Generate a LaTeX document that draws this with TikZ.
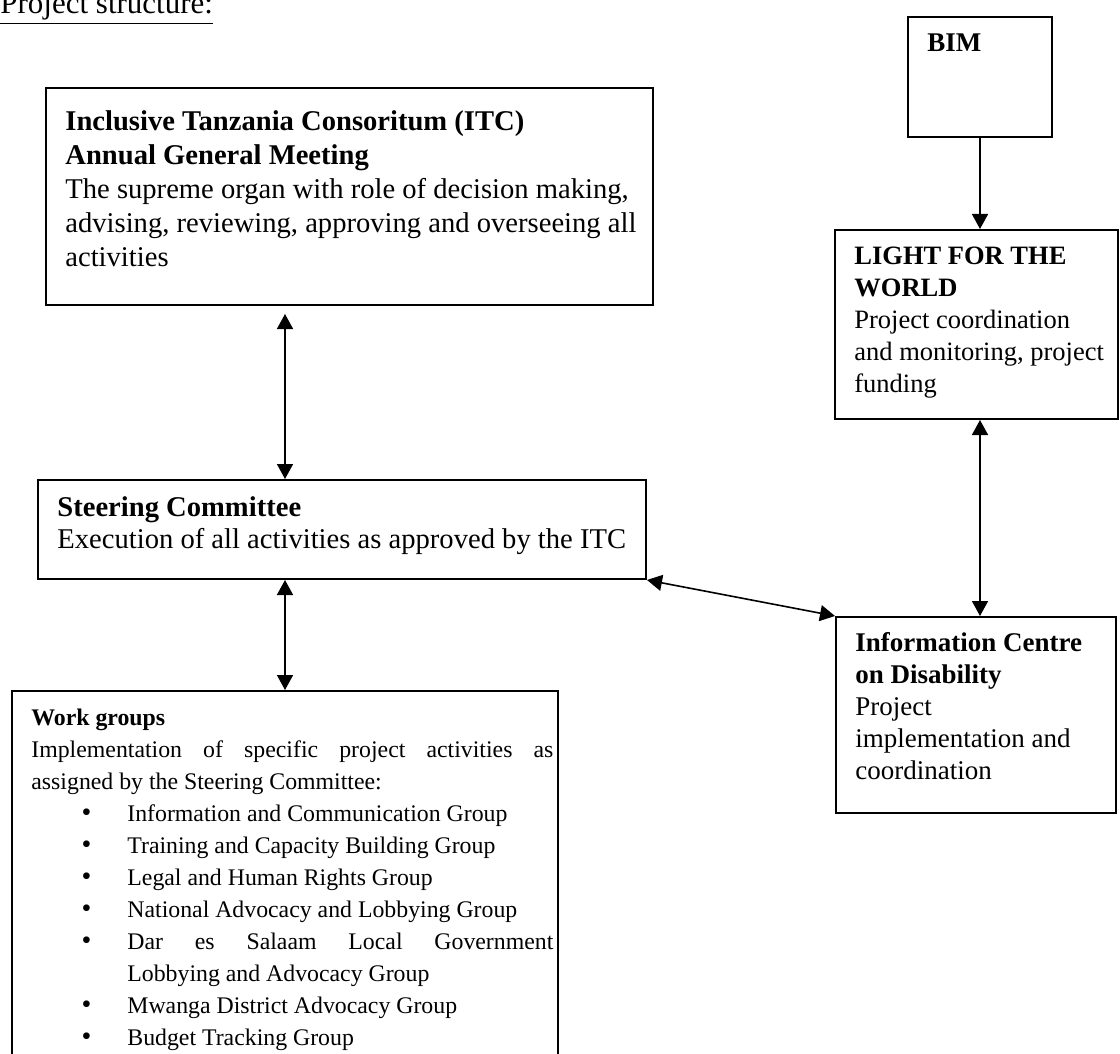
\documentclass[tikz,border=0pt]{standalone}
\usepackage{fontspec}
\setmainfont{Liberation Serif}
\usetikzlibrary{arrows.meta}

\newcommand{\bodyfont}{\fontsize{13.5}{16}\selectfont}
\newcommand{\bigbody}{\fontsize{14.3}{17}\selectfont}
\newcommand{\smallbody}{\fontsize{11.9}{16}\selectfont}
\tikzset{
  frame/.style={draw, line width=1pt, anchor=north west, inner sep=0pt},
  txt/.style={anchor=north west, inner xsep=10pt, inner ysep=6.3pt, align=left, font=\bodyfont},
  link/.style={line width=0.8pt, -{Triangle[length=7.5pt,width=8pt]}},
  twoway/.style={line width=0.8pt, {Triangle[length=7.5pt,width=8pt]}-{Triangle[length=7.5pt,width=8pt]}}
}

\begin{document}
\begin{tikzpicture}[x=0.5pt, y=-0.5pt]
  \path[use as bounding box, clip] (0,0) rectangle (1120,1054);

  % title
  \node[anchor=base west, inner sep=0pt, font=\fontsize{15.5}{18}\selectfont] (title) at (0,14) {\underline{Project structure:}};

  % boxes
  \node[frame, minimum width=303.5pt, minimum height=108.5pt] (itc) at (45,87) {};
  \node[frame, minimum width=72pt, minimum height=60pt] (bim) at (907,16) {};
  \node[frame, minimum width=141.5pt, minimum height=94.5pt] (light) at (834,229) {};
  \node[frame, minimum width=304pt, minimum height=49.5pt] (steer) at (37,479) {};
  \node[frame, minimum width=140pt, minimum height=98pt] (icd) at (835,616) {};
  \node[frame, minimum width=273pt, minimum height=200pt] (wg) at (11,690) {};

  % texts
  \node[txt, font=\bigbody, inner ysep=9.8pt] (itc-t) at (itc.north west) {\strut\textbf{Inclusive Tanzania Consoritum (ITC)}\\
    \textbf{Annual General Meeting}\\
    The supreme organ with role of decision making,\\
    advising, reviewing, approving and overseeing all\\
    activities};
  \node[txt] (bim-t) at (bim.north west) {\strut\textbf{BIM}};
  \node[txt, font=\fontsize{13.25}{16}\selectfont] (light-t) at (light.north west) {\strut\textbf{LIGHT FOR THE}\\
    \textbf{WORLD}\\
    Project coordination\\
    and monitoring, project\\
    funding};
  \node[txt, font=\fontsize{14.3}{16}\selectfont, inner ysep=7.3pt] (steer-t) at (steer.north west) {\strut\textbf{Steering Committee}\\
    Execution of all activities as approved by the ITC};
  \node[txt] (icd-t) at (icd.north west) {\strut\textbf{Information Centre}\\
    \textbf{on Disability}\\
    Project\\
    implementation and\\
    coordination};
  \node[txt, font=\smallbody, text width=261pt, align=justify] (wg-t) at (wg.north west) {\strut\textbf{Work groups}\\
    Implementation of specific project activities as\linebreak
    assigned by the Steering Committee:
    \begin{list}{{\fontsize{14}{16}\selectfont\textbullet}}{\setlength{\leftmargin}{48pt}\setlength{\labelsep}{18pt}%
      \setlength{\labelwidth}{10pt}\setlength{\topsep}{0pt}\setlength{\partopsep}{0pt}%
      \setlength{\itemsep}{0pt}\setlength{\parsep}{0pt}}
    \item Information and Communication Group
    \item Training and Capacity Building Group
    \item Legal and Human Rights Group
    \item National Advocacy and Lobbying Group
    \item Dar es Salaam Local Government\linebreak Lobbying and Advocacy Group
    \item Mwanga District Advocacy Group
    \item Budget Tracking Group
    \end{list}};

  % connectors
  \draw[twoway, shorten <=4pt] (itc.south -| wg.north) -- (steer.north -| wg.north);
  \draw[twoway] (steer.south -| wg.north) -- (wg.north);
  \draw[link] (bim.south) -- (bim.south |- light.north);
  \draw[twoway] (bim.south |- light.south) -- (bim.south |- icd.north);
  \draw[twoway] (steer.south east) -- (icd.north west);
\end{tikzpicture}
\end{document}
